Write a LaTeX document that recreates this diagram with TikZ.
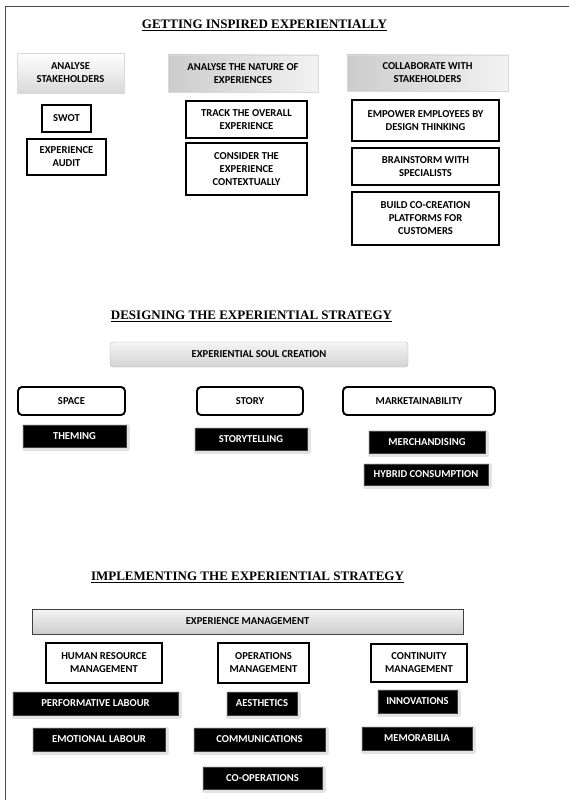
\documentclass[tikz,border=0pt]{standalone}
\usepackage{fontspec}
\setmainfont{Carlito}
\newfontfamily\titlefont{Liberation Serif}
\begin{document}
\begin{tikzpicture}[x=1pt,y=-1pt,
  base/.style={font=\bfseries\fontsize{10.6}{13}\selectfont, align=center, inner sep=1pt},
  ghead/.style={base, top color=white, bottom color=gray!30, draw=gray!30},
  ghead2/.style={base, left color=gray!40, right color=gray!10, draw=gray!30},
  wbox/.style={base, draw=black, line width=1.6pt, fill=white},
  rbox/.style={base, draw=black, line width=1.9pt, rounded corners=4pt, fill=white},
  bbox/.style={base, fill=black, draw=gray!50!black, text=white,
    preaction={draw=gray!22, line width=5pt, line join=round, transform canvas={xshift=1pt, yshift=-1.5pt}}},
  soul/.style={base, rounded corners=3pt, top color=gray!8, bottom color=gray!35, draw=gray!60},
  mgmt/.style={base, top color=gray!8, bottom color=gray!40, draw=black!75, line width=0.8pt},
  ttl/.style={font=\titlefont\bfseries\fontsize{13}{15}\selectfont}
]
\useasboundingbox (0,0) rectangle (569,800);
\draw[gray!60!black, line width=1pt] (5,800) -- (5,7) -- (569,7);

% Section 1
\node[ttl] (t1) at (264.5,25) {\underline{GETTING INSPIRED EXPERIENTIALLY}};
\node[ghead, minimum width=107, minimum height=40] (as) at (70.5,73) {ANALYSE\\STAKEHOLDERS};
\node[ghead2, minimum width=150, minimum height=37] (an) at (243,73.5) {ANALYSE THE NATURE OF\\EXPERIENCES};
\node[ghead2, minimum width=161, minimum height=36] (cs) at (427.5,73) {COLLABORATE WITH\\STAKEHOLDERS};
\node[wbox, minimum width=49, minimum height=27] (swot) at (66.5,118.5) {SWOT};
\node[wbox, minimum width=79, minimum height=36] (audit) at (66.5,157) {EXPERIENCE\\AUDIT};
\node[wbox, minimum width=121, minimum height=37] (track) at (246.5,119.5) {TRACK THE OVERALL\\EXPERIENCE};
\node[wbox, minimum width=121, minimum height=52] (cons) at (246.5,169) {CONSIDER THE\\EXPERIENCE\\CONTEXTUALLY};
\node[wbox, minimum width=147, minimum height=41] (emp) at (425.5,120.5) {EMPOWER EMPLOYEES BY\\DESIGN THINKING};
\node[wbox, minimum width=147, minimum height=37] (brain) at (425.5,166.5) {BRAINSTORM WITH\\SPECIALISTS};
\node[wbox, minimum width=147, minimum height=53] (build) at (425.5,218.5) {BUILD CO-CREATION\\PLATFORMS FOR\\CUSTOMERS};

% Section 2
\node[ttl] (t2) at (251.5,316) {\underline{DESIGNING THE EXPERIENTIAL STRATEGY}};
\node[soul, minimum width=298, minimum height=25] (soulc) at (259,354.5) {EXPERIENTIAL SOUL CREATION};
\node[rbox, minimum width=107, minimum height=28] (space) at (71.5,401) {SPACE};
\node[rbox, minimum width=106, minimum height=28] (story) at (250,401) {STORY};
\node[rbox, minimum width=152, minimum height=28] (market) at (419,401) {MARKETAINABILITY};
\node[bbox, minimum width=103, minimum height=22] (them) at (74.5,436) {THEMING};
\node[bbox, minimum width=112, minimum height=22] (stel) at (251,439) {STORYTELLING};
\node[bbox, minimum width=116, minimum height=22] (merch) at (427,442) {MERCHANDISING};
\node[bbox, minimum width=124, minimum height=21] (hyb) at (426,474.5) {HYBRID CONSUMPTION};

% Section 3
\node[ttl] (t3) at (247.5,577) {\underline{IMPLEMENTING THE EXPERIENTIAL STRATEGY}};
\node[mgmt, minimum width=431, minimum height=25] (em) at (247.5,621.5) {EXPERIENCE MANAGEMENT};
\node[wbox, line width=2pt, minimum width=116, minimum height=40] (hrm) at (104,663) {HUMAN RESOURCE\\MANAGEMENT};
\node[wbox, line width=2pt, minimum width=91, minimum height=40] (ops) at (263.5,663) {OPERATIONS\\MANAGEMENT};
\node[wbox, line width=2pt, minimum width=96, minimum height=38] (cont) at (419,663) {CONTINUITY\\MANAGEMENT};
\node[bbox, minimum width=165, minimum height=23] (perf) at (95.5,703.5) {PERFORMATIVE LABOUR};
\node[bbox, minimum width=70, minimum height=23] (aest) at (262,703.5) {AESTHETICS};
\node[bbox, minimum width=79, minimum height=23] (innov) at (417.5,701.5) {INNOVATIONS};
\node[bbox, minimum width=132, minimum height=23] (emot) at (99,739.5) {EMOTIONAL LABOUR};
\node[bbox, minimum width=131, minimum height=23] (comm) at (259.5,739.5) {COMMUNICATIONS};
\node[bbox, minimum width=110, minimum height=23] (memo) at (417,738.5) {MEMORABILIA};
\node[bbox, minimum width=119, minimum height=22] (coop) at (262.5,778) {CO-OPERATIONS};
\end{tikzpicture}
\end{document}
